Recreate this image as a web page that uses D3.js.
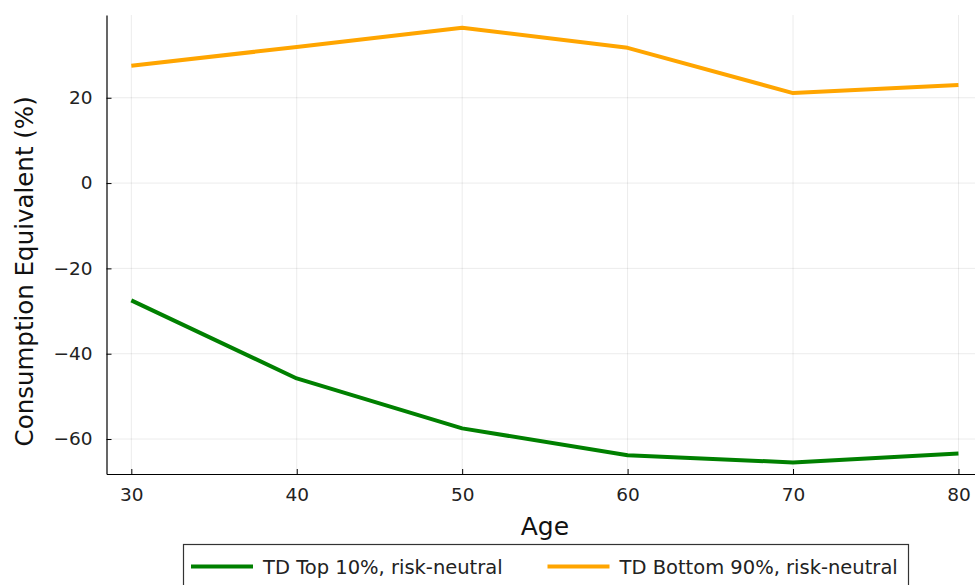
<!DOCTYPE html>
<html>
<head>
<meta charset="utf-8">
<script src="https://cdn.jsdelivr.net/npm/d3@7"></script>
<style>
  body { margin: 0; background: #fff; }
  svg { font-family: "DejaVu Sans", sans-serif; }
</style>
</head>
<body>
<div id="chart-area"></div>
<script>
// Consumption equivalent by age
const ages = [30, 40, 50, 60, 70, 80];
const top10 = [-27.5, -45.8, -57.5, -63.8, -65.5, -63.4];
const bottom90 = [27.5, 31.9, 36.4, 31.7, 21.1, 23.0];
const seriesNames = ["TD Top 10%, risk-neutral", "TD Bottom 90%, risk-neutral"];
const seriesColors = ["#008000", "#ffa500"];
const xTicks = [30, 40, 50, 60, 70, 80];
const yTicks = [-60, -40, -20, 0, 20];

const W = 975, H = 585;
const margin = {left: 106.5, right: 0, top: 15, bottom: 111};
const width = W - margin.left - margin.right;
const height = H - margin.top - margin.bottom;

const x = d3.scaleLinear().domain([28.5, 81]).range([0, width]);
const y = d3.scaleLinear().domain([-68.2, 39.4]).range([height, 0]);

const svg = d3.select("#chart-area").append("svg")
    .attr("width", W).attr("height", H);
const g = svg.append("g")
    .attr("transform", "translate(" + margin.left + ", " + margin.top + ")");

// grid
g.append("g").selectAll("line").data(xTicks).enter().append("line")
    .attr("x1", d => x(d)).attr("x2", d => x(d))
    .attr("y1", 0).attr("y2", height)
    .attr("stroke", "#000").attr("stroke-opacity", 0.08).attr("stroke-width", 1);
g.append("g").selectAll("line").data(yTicks).enter().append("line")
    .attr("x1", 0).attr("x2", width)
    .attr("y1", d => y(d)).attr("y2", d => y(d))
    .attr("stroke", "#000").attr("stroke-opacity", 0.08).attr("stroke-width", 1);

// axes
const xAxis = g.append("g")
    .attr("transform", "translate(0, " + height + ")")
    .call(d3.axisBottom(x).tickValues(xTicks).tickSizeInner(-5).tickSizeOuter(0).tickPadding(14));
const yAxis = g.append("g")
    .call(d3.axisLeft(y).tickValues(yTicks).tickSizeInner(-5).tickSizeOuter(0).tickPadding(14)
        .tickFormat(d => d < 0 ? "\u2212" + Math.abs(d) : d));
[xAxis, yAxis].forEach(a => {
    a.select(".domain").attr("stroke", "#000").attr("stroke-width", 1.2);
    a.selectAll(".tick line").attr("stroke", "#000").attr("stroke-width", 1);
    a.selectAll("text").attr("font-size", "18.5px").attr("fill", "#222")
        .attr("font-family", "DejaVu Sans, sans-serif");
});

g.append("text")
    .attr("x", x(55)).attr("y", height + 61)
    .attr("text-anchor", "middle").attr("font-size", "25px").attr("fill", "#111")
    .text("Age");
g.append("text")
    .attr("transform", "rotate(-90)")
    .attr("x", -(y(-20.7))).attr("y", -74)
    .attr("text-anchor", "middle").attr("font-size", "24.5px").attr("fill", "#111")
    .text("Consumption Equivalent (%)");

// lines
const line = d3.line().x(d => x(d[0])).y(d => y(d[1]));
[top10, bottom90].forEach((vals, i) => {
    g.append("path")
        .datum(ages.map((a, j) => [a, vals[j]]))
        .attr("d", line)
        .attr("fill", "none")
        .attr("stroke", seriesColors[i])
        .attr("stroke-width", 4)
        .attr("stroke-linejoin", "round");
});

// legend
const leg = svg.append("g").attr("transform", "translate(183.5, 544.5)");
leg.append("rect").attr("width", 725).attr("height", 50)
    .attr("fill", "#fff").attr("stroke", "#333").attr("stroke-width", 1.2);
const legX = [7.5, 364];
seriesNames.forEach((n, i) => {
    leg.append("line")
        .attr("x1", legX[i]).attr("x2", legX[i] + 62)
        .attr("y1", 22).attr("y2", 22)
        .attr("stroke", seriesColors[i]).attr("stroke-width", 4);
    leg.append("text")
        .attr("x", legX[i] + 72).attr("y", 29.5)
        .attr("font-size", "19.5px").attr("fill", "#222")
        .text(n);
});
</script>
</body>
</html>
